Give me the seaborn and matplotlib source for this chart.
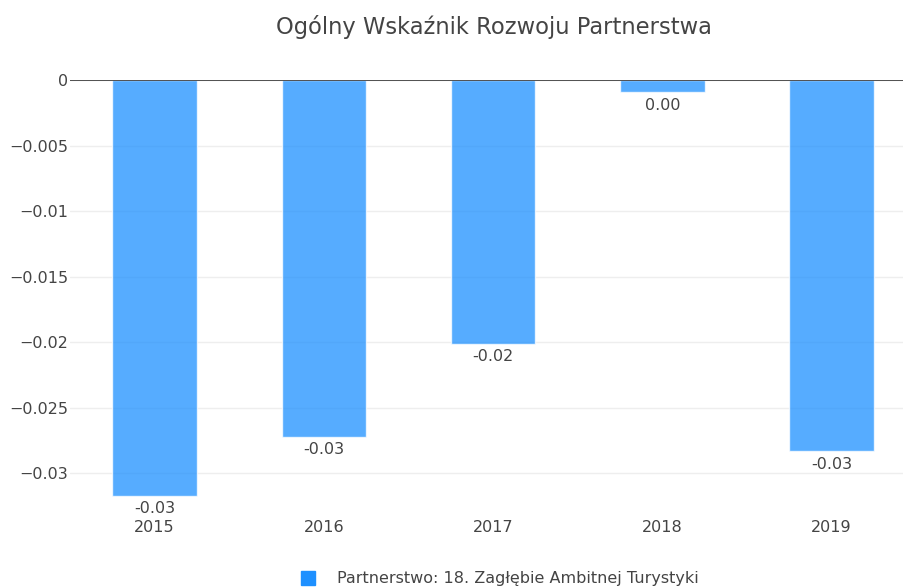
import matplotlib
matplotlib.use("Agg")
import matplotlib.pyplot as plt
import matplotlib.ticker as mticker
from matplotlib.lines import Line2D
import seaborn as sns
import pandas as pd

# ─── Données ────────────────────────────────────────────────────────────────
years  = ["2015", "2016", "2017", "2018", "2019"]
values = [-0.0317, -0.0272, -0.0201, -0.00095, -0.0283]
labels = ["-0.03", "-0.03", "-0.02", "0.00", "-0.03"]
series_name = "Partnerstwo: 18. Zagłębie Ambitnej Turystyki"
title = "Ogólny Wskaźnik Rozwoju Partnerstwa"
yticks = [0, -0.005, -0.01, -0.015, -0.02, -0.025, -0.03]

df = pd.DataFrame({"Rok": years, "Wartosc": values})

# ─── Style ──────────────────────────────────────────────────────────────────
sns.set_style("white")
plt.rcParams["font.family"] = ["DejaVu Sans"]
plt.rcParams["font.sans-serif"] = ["DejaVu Sans"]
TXT = "#444444"
FS = 11.5

fig = plt.figure(figsize=(9.04, 5.88), dpi=100)
ax = fig.add_axes([70 / 904, 1 - 497 / 588, 834 / 904, 417 / 588])

sns.barplot(data=df, x="Rok", y="Wartosc", color="#1E90FF", alpha=0.75,
            width=0.5, saturation=1, ax=ax, zorder=2)

ax.set_ylim(-0.0318, 0)
ax.set_xlim(-0.5, 4.428)
ax.set_yticks(yticks)
ax.yaxis.set_major_formatter(mticker.FuncFormatter(
    lambda v, p: "0" if v == 0 else f"{v:g}".replace("-", "\u2212")))
ax.grid(axis="y", color="#eeeeee", linewidth=1, zorder=0)
ax.axhline(0, color="#444444", linewidth=1.3, zorder=3)
for s in ax.spines.values():
    s.set_visible(False)
ax.tick_params(axis="both", length=0, labelsize=FS, colors=TXT)
ax.tick_params(axis="x", pad=16.5)
ax.tick_params(axis="y", pad=1.5)
ax.set_xlabel("")
ax.set_ylabel("")

for i, (v, lab) in enumerate(zip(values, labels)):
    ax.annotate(lab, (i, v), xytext=(0, -4), textcoords="offset points",
                ha="center", va="top", fontsize=FS, color=TXT)

fig.text(0.546, 1 - 27 / 588, title, ha="center", va="center",
         fontsize=16.3, color=TXT)

handle = Line2D([], [], marker="s", linestyle="none", markersize=10.5,
                markerfacecolor="#1E90FF", markeredgecolor="#1E90FF")
fig.legend([handle], [series_name], loc="center",
           bbox_to_anchor=(0.548, 1 - 579 / 588), frameon=False,
           fontsize=FS, labelcolor=TXT, handletextpad=0.8)

plt.savefig("out.png", dpi=100)
plt.close()
